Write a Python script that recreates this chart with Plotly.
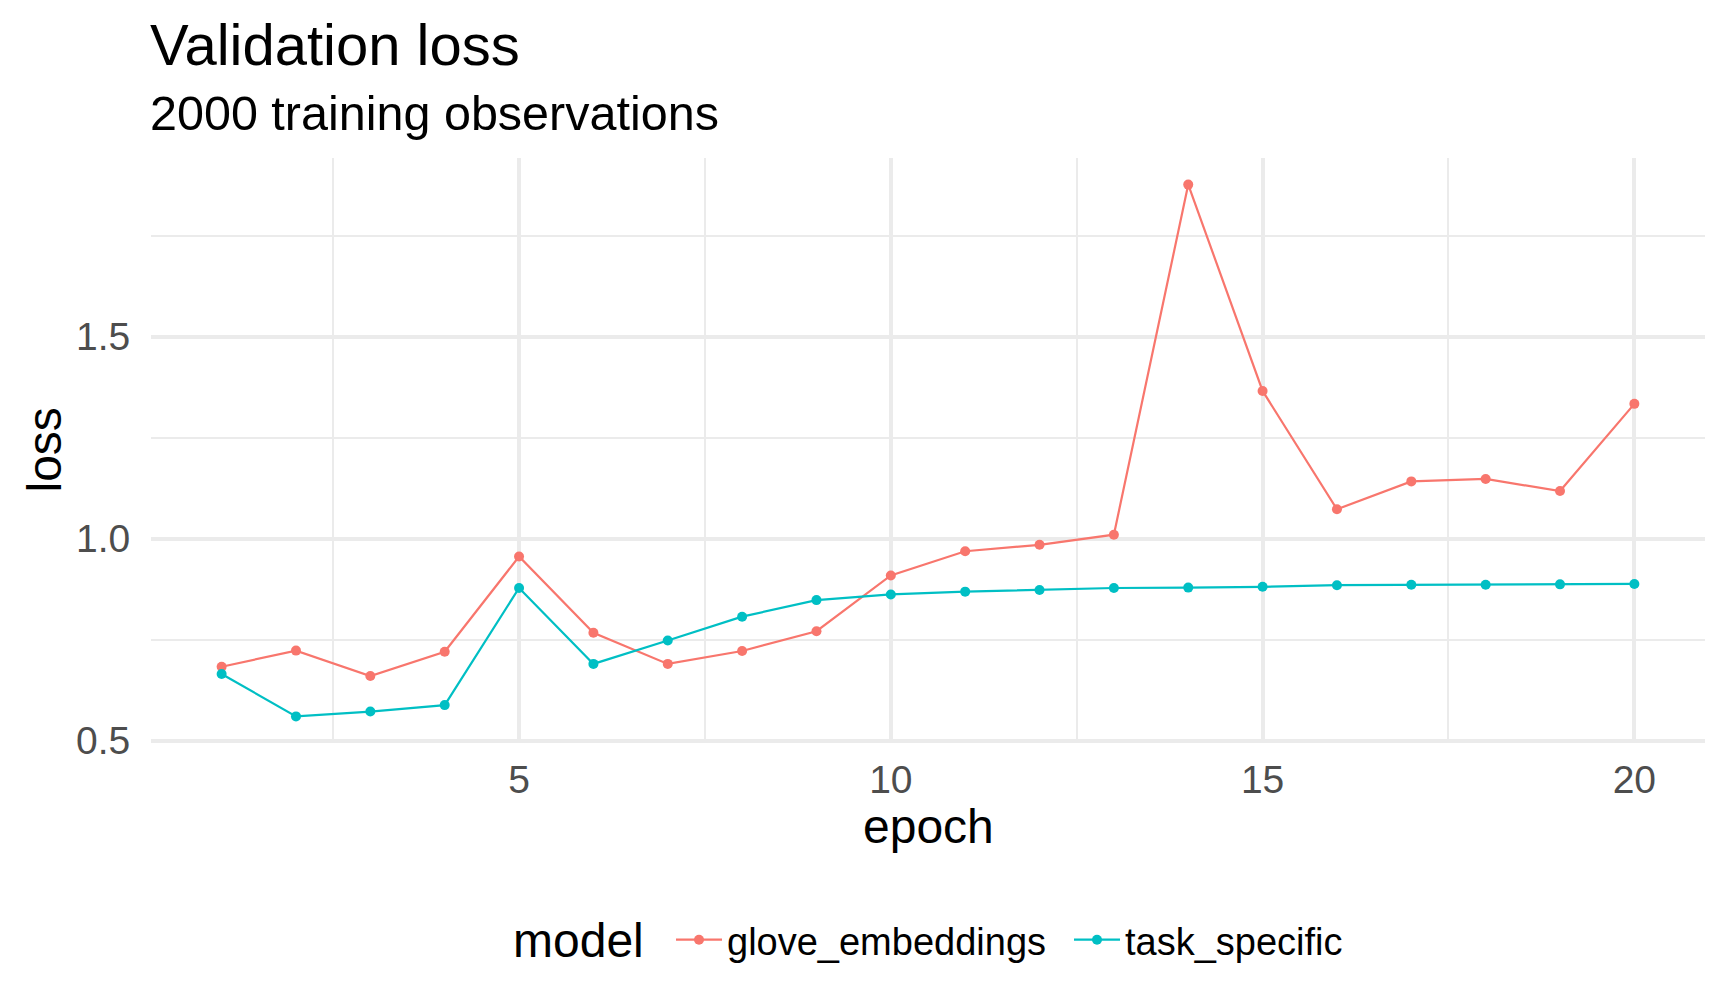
import plotly.graph_objects as go

# ---- data ----
epochs = list(range(1, 21))
glove_embeddings = [0.683, 0.723, 0.660, 0.720, 0.956, 0.767, 0.690, 0.722, 0.771, 0.909,
                    0.969, 0.985, 1.010, 1.877, 1.366, 1.073, 1.142, 1.148, 1.118, 1.334]
task_specific = [0.665, 0.560, 0.572, 0.588, 0.878, 0.690, 0.748, 0.807, 0.848, 0.862,
                 0.869, 0.873, 0.878, 0.879, 0.881, 0.885, 0.886, 0.886, 0.887, 0.888]
series_names = ["glove_embeddings", "task_specific"]
series_colors = ["#F8766D", "#00BFC4"]
x_ticks = [5, 10, 15, 20]
y_ticks = [0.5, 1.0, 1.5]
y_tick_labels = ["0.5", "1.0", "1.5"]

FONT = "Liberation Sans, Arial, Helvetica, sans-serif"

fig = go.Figure()
for name, vals, col in zip(series_names, [glove_embeddings, task_specific], series_colors):
    fig.add_trace(go.Scatter(
        x=epochs, y=vals, name=name, mode="lines+markers",
        line=dict(color=col, width=2.2),
        marker=dict(color=col, size=10),
    ))

# ggplot-like 5% expansion
allv = glove_embeddings + task_specific
ymin, ymax = min(allv), max(allv)
ypad = (ymax - ymin) * 0.05
xmin, xmax = min(epochs), max(epochs)
xpad = (xmax - xmin) * 0.05

W, H = 1728, 1008
L, R, T, B = 143, 31, 150, 273
ph = H - T - B
pw = W - L - R

def py(p):
    return (H - B - p) / ph

def px(p):
    return (p - L) / pw

fig.update_layout(
    width=W, height=H,
    margin=dict(l=L, r=R, t=T, b=B),
    paper_bgcolor="white", plot_bgcolor="white",
    font=dict(family=FONT, color="black"),
    showlegend=True,
    legend=dict(
        orientation="h", x=px(663), xanchor="left", y=py(932), yanchor="middle",
        font=dict(size=38, color="black"),
        itemwidth=46,
        entrywidth=337,
        bgcolor="rgba(0,0,0,0)",
    ),
    xaxis=dict(
        range=[xmin - xpad, xmax + xpad],
        tickmode="array", tickvals=x_ticks, ticktext=[str(v) for v in x_ticks],
        tickfont=dict(size=39, color="#4D4D4D", family=FONT),
        ticks="outside", ticklen=2, tickcolor="rgba(0,0,0,0)",
        showgrid=True, gridcolor="#EBEBEB", gridwidth=3.5,
        minor=dict(showgrid=True, gridcolor="#EBEBEB", gridwidth=1.8, tick0=0, dtick=2.5),
        zeroline=False, showline=False,
    ),
    yaxis=dict(
        range=[ymin - ypad, ymax + ypad],
        tickmode="array", tickvals=y_ticks, ticktext=y_tick_labels,
        tickfont=dict(size=39, color="#4D4D4D", family=FONT),
        ticks="outside", ticklen=12, tickcolor="rgba(0,0,0,0)",
        showgrid=True, gridcolor="#EBEBEB", gridwidth=3.5,
        minor=dict(showgrid=True, gridcolor="#EBEBEB", gridwidth=1.8, tick0=0, dtick=0.25),
        zeroline=False, showline=False,
    ),
    annotations=[
        dict(text="Validation loss", xref="paper", yref="paper", x=px(140), y=py(36),
             xanchor="left", yanchor="middle", showarrow=False,
             font=dict(size=58, color="black", family=FONT)),
        dict(text="2000 training observations", xref="paper", yref="paper", x=px(140), y=py(105),
             xanchor="left", yanchor="middle", showarrow=False,
             font=dict(size=48.5, color="black", family=FONT)),
        dict(text="epoch", xref="paper", yref="paper", x=0.5, y=py(818.5),
             xanchor="center", yanchor="middle", showarrow=False,
             font=dict(size=48, color="black", family=FONT)),
        dict(text="loss", xref="paper", yref="paper", x=px(36), y=0.5, textangle=-90,
             xanchor="center", yanchor="middle", showarrow=False,
             font=dict(size=48, color="black", family=FONT)),
        dict(text="model", xref="paper", yref="paper", x=px(503), y=py(932),
             xanchor="left", yanchor="middle", showarrow=False,
             font=dict(size=48, color="black", family=FONT)),
    ],
)

fig.write_html("out.html")
